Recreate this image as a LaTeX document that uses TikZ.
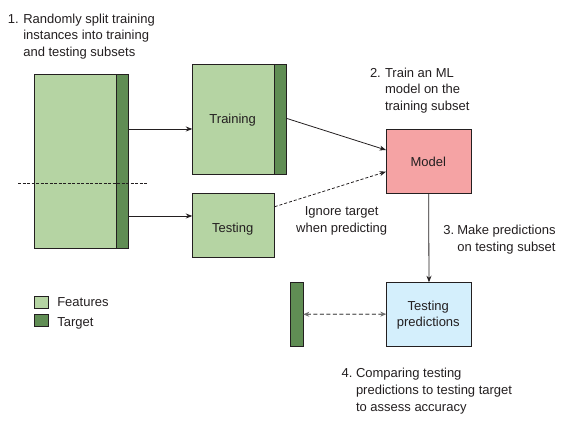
\documentclass[tikz,border=0pt]{standalone}
\usepackage{fontspec}
\setmainfont{Liberation Sans}
\usetikzlibrary{arrows.meta}
\definecolor{featc}{RGB}{181,212,163}
\definecolor{targc}{RGB}{96,141,84}
\definecolor{modelc}{RGB}{245,163,164}
\definecolor{predc}{RGB}{212,239,252}
\definecolor{txtc}{RGB}{35,31,32}
\definecolor{grayc}{RGB}{112,112,112}
\tikzset{
  box/.style={draw=txtc, line width=0.9pt, inner sep=0pt, outer sep=0pt},
  featbox/.style={box, fill=featc},
  targbox/.style={box, fill=targc},
  txt/.style={inner sep=0pt, outer sep=0pt, text=txtc, font=\fontsize{13}{16.7}\selectfont},
  arr/.style={draw=txtc, line width=0.8pt, -{Stealth[length=6.5pt,width=5pt]}},
  darr/.style={arr, dash pattern=on 3pt off 2pt},
  cmp/.style={draw=grayc, line width=1.2pt, dash pattern=on 4pt off 2.5pt, {Stealth[length=6pt,width=5pt]}-{Stealth[length=6pt,width=5pt]}},
  split/.style={draw=txtc, line width=0.7pt, dash pattern=on 3pt off 1.5pt}
}
\begin{document}
\begin{tikzpicture}[x=1pt,y=-1pt]
\useasboundingbox (0,0) rectangle (568,427);
% full data set
\node[featbox, minimum width=82pt, minimum height=174pt] (bigF) at (75.7,161.3) {};
\node[targbox, minimum width=11.6pt, minimum height=174pt] (bigT) at (122.5,161.3) {};
\coordinate (s1) at (18,183);
\coordinate (s2) at (146.7,183);
\draw[split] (s1) -- (s2);
% training subset
\node[featbox, minimum width=82.4pt, minimum height=109.7pt] (trainF) at (233.5,119.15) {};
\node[targbox, minimum width=11.6pt, minimum height=109.7pt] (trainT) at (280.5,119.15) {};
\node[txt, anchor=base] (trainL) at (232.7,123.3) {Training};
% testing subset
\node[featbox, minimum width=82.4pt, minimum height=64pt] (testF) at (233.5,225.3) {};
\node[txt, anchor=base] (testL) at (232.7,232.3) {Testing};
% model
\node[box, fill=modelc, minimum width=85.3pt, minimum height=64pt] (model) at (428.65,161.3) {};
\node[txt, anchor=base] (modelL) at (428.3,166.7) {Model};
% predictions
\node[box, fill=predc, minimum width=85.4pt, minimum height=63.7pt] (pred) at (429,314.15) {};
\node[txt, anchor=base, align=center, font=\fontsize{13}{16}\selectfont] (predL) at (428.3,326.7) {Testing\\predictions};
\node[targbox, minimum width=13pt, minimum height=64pt] (predT) at (296.8,314.3) {};
% legend
\node[featbox, minimum width=14pt, minimum height=12pt] (legF) at (41.3,302.8) {};
\node[targbox, minimum width=14pt, minimum height=12pt] (legT) at (41.3,320.2) {};
\node[txt, anchor=base west] (legFL) at (57.3,306.7) {Features};
\node[txt, anchor=base west] (legTL) at (57.3,326.7) {Target};
% connectors
\coordinate (y1) at (0,129);
\coordinate (y2) at (0,216);
\coordinate (y3) at (0,118.3);
\coordinate (y4) at (0,150);
\coordinate (y5) at (0,206.7);
\coordinate (y6) at (0,171.7);
\draw[arr] (bigT.east |- y1) -- (trainF.west |- y1);
\draw[arr] (bigT.east |- y2) -- (testF.west |- y2);
\draw[arr] (trainT.east |- y3) -- (model.west |- y4);
\draw[darr] (testF.east |- y5) -- (model.west |- y6);
\draw[arr] (model.south) -- (pred.north);
\draw[cmp] (predT.east) -- (pred.west);
% annotations (base = baseline of last line)
\node[txt, anchor=base west] (n1) at (8,23.3) {1.};
\node[txt, anchor=base west, align=left] (t1) at (23.3,56.7) {Randomly split training\\instances into training\\and testing subsets};
\node[txt, anchor=base west] (n2) at (370,77.3) {2.};
\node[txt, anchor=base west, align=left] (t2) at (385,110.7) {Train an ML\\model on the\\training subset};
\node[txt, anchor=base, align=center] (ign) at (341.7,232.4) {Ignore target\\when predicting};
\node[txt, anchor=base west] (n3) at (443.3,235) {3.};
\node[txt, anchor=base west, align=left] (t3) at (457.3,251.7) {Make predictions\\on testing subset};
\node[txt, anchor=base west] (n4) at (341.7,377.7) {4.};
\node[txt, anchor=base west, align=left] (t4) at (356,411.1) {Comparing testing\\predictions to testing target\\to assess accuracy};
\end{tikzpicture}
\end{document}
